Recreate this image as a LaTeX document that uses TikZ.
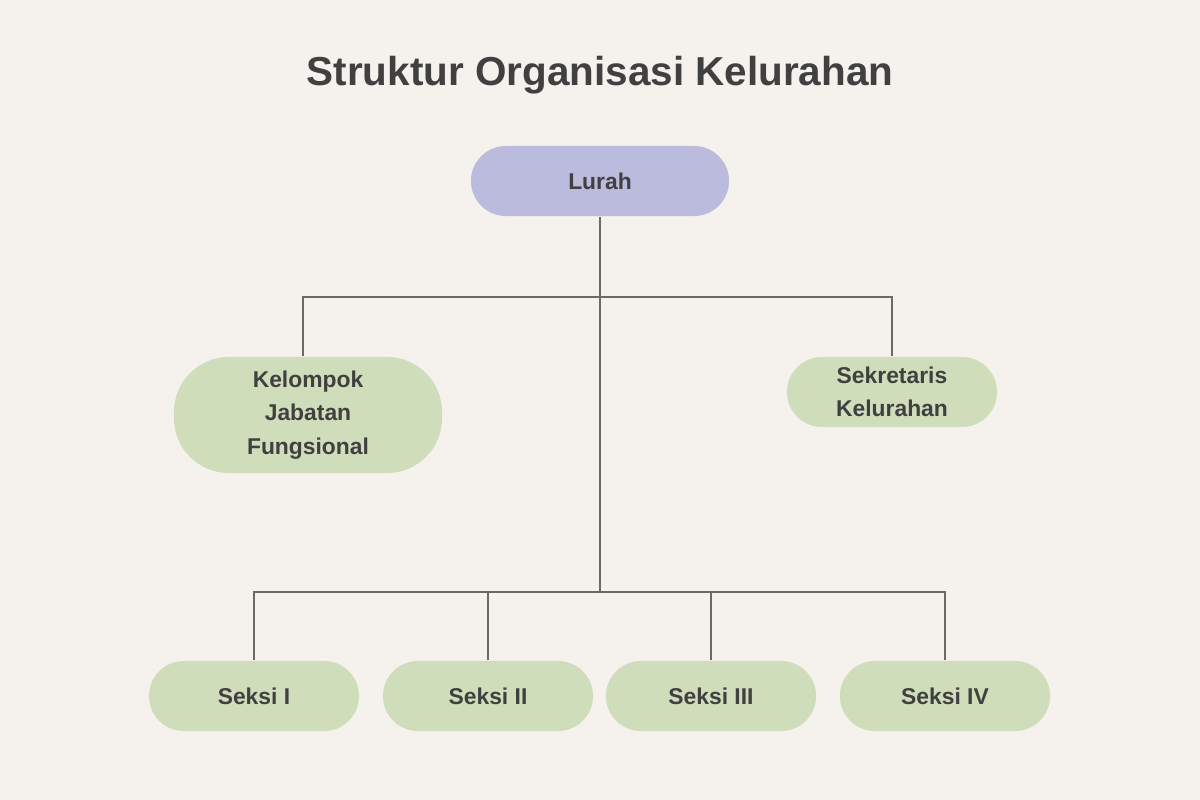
\documentclass[tikz,border=0pt]{standalone}
\usepackage{fontspec}
\setmainfont{Liberation Sans}
\usetikzlibrary{positioning}

\definecolor{bgcream}{HTML}{F5F2ED}
\definecolor{lavender}{HTML}{BBBBDD}
\definecolor{sage}{HTML}{CFDDBB}
\definecolor{inkgray}{HTML}{404040}
\definecolor{linegray}{HTML}{6A6A6A}

\tikzset{
  unitbox/.style={fill=sage, text=inkgray, font=\bfseries\fontsize{6.5}{9.5}\selectfont,
    align=center, inner sep=0pt, minimum width=2.1cm, minimum height=0.7cm, rounded corners=0.35cm},
  headbox/.style={unitbox, fill=lavender, minimum width=2.58cm},
  link/.style={draw=linegray, line width=0.42pt}
}

\begin{document}
\begin{tikzpicture}[x=0.01cm,y=-0.01cm]
        \fill[bgcream] (0,0) rectangle (1200,800);
        \useasboundingbox (0,0) rectangle (1200,800);
        \node[text=inkgray, font=\bfseries\fontsize{11.5}{13}\selectfont] (title) at (600,75) {Struktur Organisasi Kelurahan};

        \node[headbox] (lurah) at (600,181) {Lurah};
        \node[unitbox, minimum width=2.68cm, minimum height=1.16cm, rounded corners=0.55cm] (kjf) at (308,415) {Kelompok\\Jabatan\\Fungsional};
        \node[unitbox] (sekre) at (892,392) {Sekretaris\\Kelurahan};

        \foreach \x/\name/\txt in {
            254/s1/Seksi I,
            488/s2/Seksi II,
            711/s3/Seksi III,
            945/s4/Seksi IV}
                \node[unitbox] (\name) at (\x,696) {\txt};

        \coordinate (topbus) at (600,297);
        \coordinate (lowbus) at (600,592);
        \coordinate (kjftop) at ([xshift=-0.05cm]kjf.north);

        \draw[link] (lurah.south) -- (lowbus);
        \draw[link] (kjftop) -- (kjftop |- topbus) -- (sekre.north |- topbus) -- (sekre.north);
        \draw[link] (s1.north) -- (s1.north |- lowbus) -- (s4.north |- lowbus) -- (s4.north);
        \foreach \name in {s2,s3}
                \draw[link] (\name.north) -- (\name.north |- lowbus);
\end{tikzpicture}
\end{document}
